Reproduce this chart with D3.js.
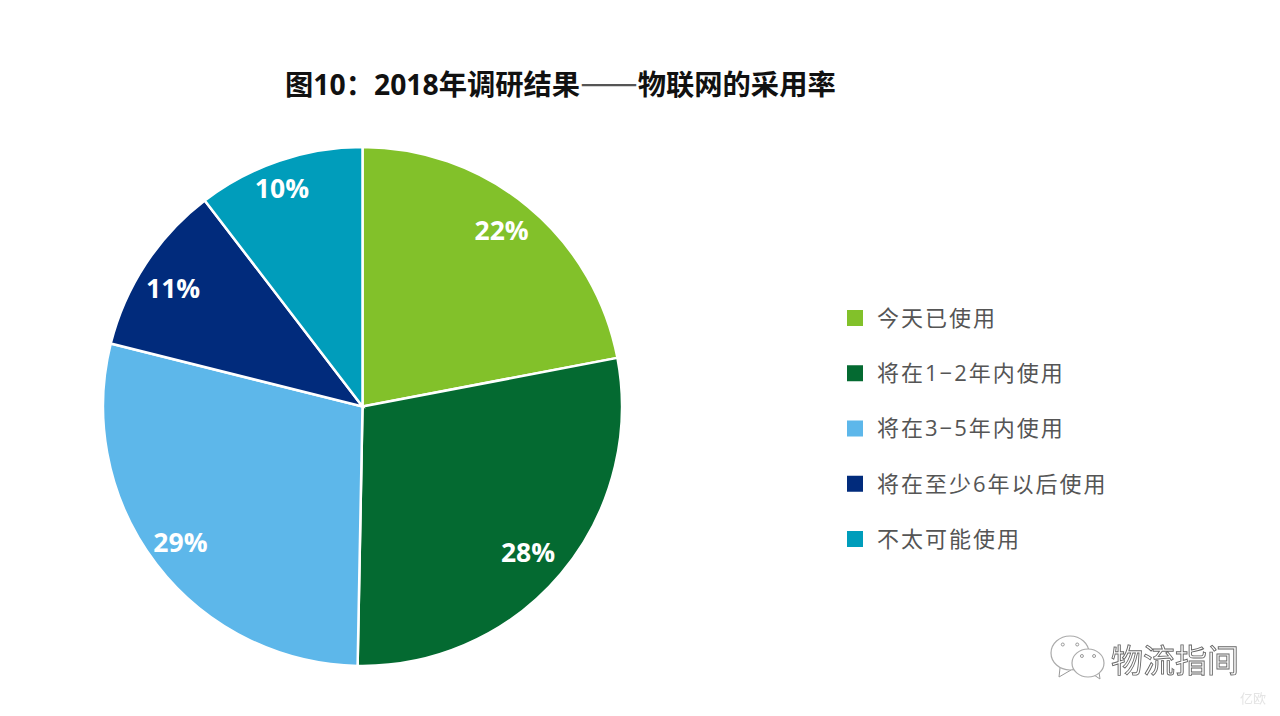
<!DOCTYPE html>
<html>
<head>
<meta charset="utf-8">
<script src="https://d3js.org/d3.v7.min.js"></script>
<style>
  body { margin: 0; background: #fff; }
  text { font-family: "Open Sans", "Noto Sans CJK SC", sans-serif; }
</style>
</head>
<body>
<div id="wrapper"></div>
<script>
const titleParts = ["图10：2018年调研结果", "——", "物联网的采用率"];
const categories = ["今天已使用", "将在1−2年内使用", "将在3−5年内使用", "将在至少6年以后使用", "不太可能使用"];
const shares = [22, 28.3, 28.6, 10.7, 10.4];
const colors = ["#82c12a", "#046a31", "#5db7ea", "#012b7c", "#009dbb"];
const watermark = "物流指间";
const brandMark = "亿欧";

const width = 1280;
const height = 716;
const centerX = 362.5;
const centerY = 406.5;
const radius = 259.5;

const wrapper = d3.select("#wrapper")
  .append("svg")
    .attr("width", width)
    .attr("height", height)
    .style("display", "block");

const title = wrapper.append("text")
  .attr("x", 285)
  .attr("y", 95)
  .attr("fill", "#111")
  .style("font-size", "28.3px")
  .style("font-weight", 700);

// the dash is a thin joined rule in the original, the CJK face gives that
title.selectAll("tspan")
  .data(titleParts)
  .join("tspan")
    .style("font-weight", (d, i) => i == 1 ? 400 : 700)
    .style("font-family", (d, i) => i == 1 ? '"Noto Sans CJK SC"' : null)
    .style("font-size", (d, i) => i == 1 ? "34.3px" : null)
    .attr("fill", (d, i) => i == 1 ? "#555" : "#111")
    .text(d => d);

const data = categories.map((name, i) => ({ name, share: shares[i] }));

const pie = d3.pie()
  .value(d => d.share)
  .sort(null);

const arc = d3.arc()
  .innerRadius(0)
  .outerRadius(radius);

const labelArc = d3.arc()
  .innerRadius(223)
  .outerRadius(223);

const colorScale = d3.scaleOrdinal()
  .domain(categories)
  .range(colors);

const bounds = wrapper.append("g")
  .attr("transform", `translate(${centerX}, ${centerY})`);

const slices = pie(data);

bounds.selectAll("path")
  .data(slices)
  .join("path")
    .attr("d", arc)
    .attr("fill", d => colorScale(d.data.name))
    .attr("stroke", "#fff")
    .attr("stroke-width", 2.5);

// the labels sit a little off the centroid ring in the original
const labelNudge = [[-3, -4], [-5, 2], [-5, 0], [-3, 4], [-9, -7]];

bounds.selectAll("text")
  .data(slices)
  .join("text")
    .attr("transform", (d, i) => {
      const [x, y] = labelArc.centroid(d);
      return `translate(${x + labelNudge[i][0]}, ${y + labelNudge[i][1]})`;
    })
    .attr("text-anchor", "middle")
    .attr("dy", "0.36em")
    .attr("fill", "#fff")
    .style("font-size", "26.5px")
    .style("font-weight", 700)
    .text(d => `${Math.round(d.data.share)}%`);

// legend
const legendY = d3.scalePoint()
  .domain(categories)
  .range([318, 539]);

const legend = wrapper.append("g");

legend.selectAll("rect")
  .data(categories)
  .join("rect")
    .attr("x", 847)
    .attr("y", d => legendY(d) - 8)
    .attr("width", 16)
    .attr("height", 16)
    .attr("fill", d => colorScale(d));

legend.selectAll("text")
  .data(categories)
  .join("text")
    .attr("x", 877)
    .attr("y", d => legendY(d))
    .attr("dy", "0.36em")
    .attr("fill", "#555")
    .style("font-size", "22px")
    .style("letter-spacing", "2px")
    .text(d => d);

// watermark in the corner, the filter keeps the outline grey
const mark = wrapper.append("g")
  .style("filter", "grayscale(1)");

const bubbles = [
  { x: 1070, y: 653, rx: 19, ry: 17, tail: "M1060,668 L1059,677 L1071,670" },
  { x: 1088, y: 663, rx: 16, ry: 14, tail: "M1094,675 L1100,679 L1099,672" },
];

bubbles.forEach(b => {
  mark.append("path")
    .attr("d", b.tail)
    .attr("fill", "#fff")
    .attr("stroke", "#999");
  mark.append("ellipse")
    .attr("cx", b.x)
    .attr("cy", b.y)
    .attr("rx", b.rx)
    .attr("ry", b.ry)
    .attr("fill", "#fff")
    .attr("stroke", "#aaa")
    .attr("stroke-width", 1.2);
  mark.selectAll(null)
    .data([-1, 1])
    .join("circle")
      .attr("cx", d => b.x + d * b.rx * 0.38)
      .attr("cy", b.y - b.ry * 0.5)
      .attr("r", 1.5)
      .attr("fill", "#fff")
      .attr("stroke", "#999");
});

mark.append("text")
  .attr("x", 1111)
  .attr("y", 672)
  .attr("fill", "#fff")
  .attr("stroke", "#666")
  .attr("stroke-width", 0.9)
  .style("font-size", "32px")
  .text(watermark);

mark.append("text")
  .attr("x", 1240)
  .attr("y", 703)
  .attr("fill", "#e4e4e4")
  .style("font-size", "13px")
  .text(brandMark);
</script>
</body>
</html>
